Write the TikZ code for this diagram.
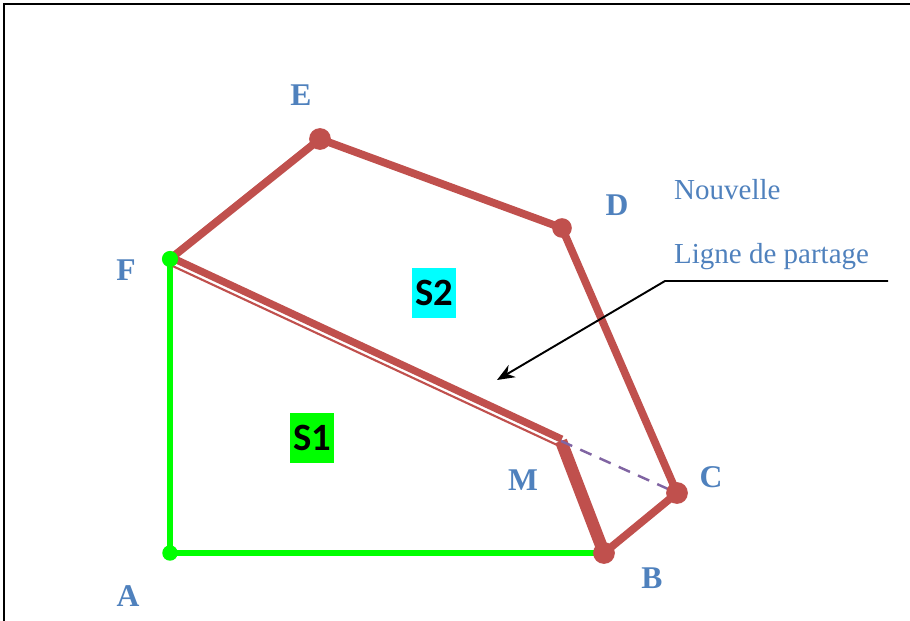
\documentclass[tikz,border=0pt]{standalone}
\usepackage{fontspec}
\setmainfont{Liberation Serif}
\newfontfamily\labelfont{Carlito}
\usepackage{xcolor}
\usetikzlibrary{positioning,arrows.meta}

\definecolor{brick}{RGB}{192,80,77}
\definecolor{lime}{RGB}{0,255,0}
\definecolor{aqua}{RGB}{0,255,255}
\definecolor{steel}{RGB}{79,129,189}
\definecolor{dashviolet}{RGB}{128,100,162}

\tikzset{
  pointname/.style={text=steel, font=\bfseries\fontsize{18}{20}\selectfont},
  surface/.style={inner xsep=1.5pt, minimum height=29pt, font=\labelfont\bfseries\fontsize{22}{24}\selectfont},
  hint/.style={text=steel, anchor=west, font=\fontsize{16.5}{18}\selectfont},
}

\begin{document}
\begin{tikzpicture}[x=0.02cm, y=-0.02cm]

\useasboundingbox (0,0) rectangle (910,621);
\draw[line width=1.4pt] (4,621) -- (4,4) -- (910,4);

\coordinate (A) at (170,553);
\coordinate (B) at (604,553);
\coordinate (C) at (677,493);
\coordinate (D) at (562,228);
\coordinate (E) at (320,139);
\coordinate (F) at (170,259);
\coordinate (M) at (561,441);

\draw[lime, line width=3.3pt] (F) -- (A) -- (B);
\draw[brick, line width=4.4pt, line join=round] (F) -- (E) -- (D) -- (C) -- (B);
\draw[brick, line width=7pt] (M) -- (B);
\draw[brick, line width=4.2pt] ([shift={(0.8,-1.8)}]F) -- ([shift={(0.8,-1.8)}]M);
\draw[brick, line width=1.2pt] ([shift={(-2.2,4.8)}]F) -- ([shift={(-2.2,4.8)}]M);
\draw[dashviolet, line width=1.4pt, dash pattern=on 7pt off 5pt] (M) -- (C);

\fill[lime] (A) circle (4.4pt);
\fill[lime] (F) circle (4.6pt);
\fill[brick] (B) circle (6.2pt);
\fill[brick] (C) circle (6.2pt);
\fill[brick] (D) circle (5.6pt);
\fill[brick] (E) circle (6.2pt);

\node[pointname] (lA) at (128,596) {A};
\node[pointname] (lB) at (652,578) {B};
\node[pointname] (lC) at (711,477) {C};
\node[pointname] (lD) at (617,205) {D};
\node[pointname] (lE) at (301,95) {E};
\node[pointname] (lF) at (126,270) {F};
\node[pointname] (lM) at (523,480) {M};

\node[surface, fill=aqua] (s2) at (434,293) {S2};
\node[surface, fill=lime] (s1) at (312,438) {S1};

\node[hint] (new) at (668,190) {Nouvelle};
\node[hint] (line) at (668,257) {Ligne de partage};

\coordinate (tail) at (888,281);
\coordinate (bend) at (665,281);
\coordinate (tip) at (497,380);
\draw[-{Stealth[length=10pt,width=8pt]}, line width=1.1pt] (tail) -- (bend) -- (tip);

\end{tikzpicture}
\end{document}
